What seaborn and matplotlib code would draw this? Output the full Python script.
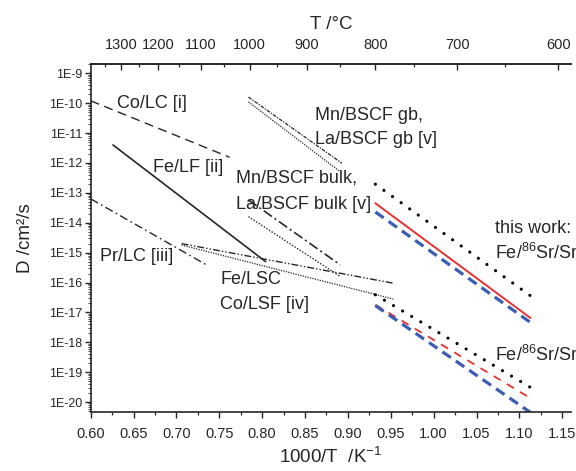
import numpy as np
import pandas as pd
import seaborn as sns
import matplotlib
matplotlib.use("Agg")
import matplotlib.pyplot as plt
from matplotlib.ticker import FixedLocator, FuncFormatter, MultipleLocator, NullFormatter

# literature lines: 1000/T endpoints and D endpoints (cm^2/s)
co_lc_x = [0.600, 0.762]
co_lc_d = [1.2e-10, 1.55e-12]
fe_lf_x = [0.626, 0.804]
fe_lf_d = [4.0e-12, 5.0e-16]
pr_lc_x = [0.600, 0.735]
pr_lc_d = [6.3e-14, 3.9e-16]
fe_lsc_x = [0.706, 0.953]
fe_lsc_d = [2.0e-15, 9.5e-17]
co_lsf_x = [0.706, 0.953]
co_lsf_d = [1.8e-15, 2.8e-17]
mn_gb_x = [0.784, 0.893]
mn_gb_d = [1.6e-10, 9.8e-13]
la_gb_x = [0.784, 0.891]
la_gb_d = [1.1e-10, 5.1e-13]
mn_bulk_x = [0.784, 0.891]
mn_bulk_d = [5.8e-14, 3.9e-16]
la_bulk_x = [0.784, 0.891]
la_bulk_d = [1.6e-14, 1.6e-16]

# this work
tw_x = [0.932, 1.113]
tw_fe_bulk = [1.95e-13, 3.6e-17]
tw_sr_bulk = [4.5e-14, 6.5e-18]
tw_srsr_bulk = [2.3e-14, 4.6e-18]
tw_fe_gb = [3.9e-17, 3.1e-20]
tw_sr_gb = [1.8e-17, 1.35e-20]
tw_srsr_gb = [1.7e-17, 4.5e-21]

top_major = [600, 700, 800, 900, 1000, 1100, 1200, 1300]
top_minor = [650, 750, 850, 950, 1050, 1150, 1250, 1350]
y_decades = list(range(-20, -8))

sns.set_theme(style="ticks")
plt.rcParams['font.family'] = ['Liberation Sans', 'DejaVu Sans']
plt.rcParams['mathtext.fontset'] = 'custom'
plt.rcParams['mathtext.rm'] = 'Liberation Sans'
plt.rcParams['mathtext.it'] = 'Liberation Sans:italic'
plt.rcParams['mathtext.bf'] = 'Liberation Sans:bold'

ink = '#262626'
red = '#e8302c'
blue = '#3d5cb4'

fig = plt.figure(figsize=(5.76, 4.71), dpi=100)
ax = fig.add_axes([0.1575, 0.1253, 0.8335, 0.7388])

lines = [
    (co_lc_x, co_lc_d, ink, 1.0, (0, (6.5, 4)), 'butt'),
    (fe_lf_x, fe_lf_d, ink, 1.2, '-', 'butt'),
    (pr_lc_x, pr_lc_d, ink, 1.0, (0, (6, 2.5, 1.2, 2.5)), 'butt'),
    (fe_lsc_x, fe_lsc_d, ink, 1.0, (0, (5, 1.5, 1, 1.5, 1, 1.5)), 'butt'),
    (co_lsf_x, co_lsf_d, ink, 0.9, (0, (1, 1)), 'butt'),
    (mn_gb_x, mn_gb_d, ink, 0.9, (0, (3, 1, 1, 1)), 'butt'),
    (la_gb_x, la_gb_d, ink, 0.9, (0, (1, 1)), 'butt'),
    (mn_bulk_x, mn_bulk_d, ink, 1.2, (0, (6, 2, 1.2, 2)), 'butt'),
    (la_bulk_x, la_bulk_d, ink, 1.0, (0, (1, 1.2)), 'butt'),
    (tw_x, tw_fe_bulk, 'black', 2.3, (0, (0.01, 3.3)), 'round'),
    (tw_x, tw_sr_bulk, red, 1.4, '-', 'butt'),
    (tw_x, tw_srsr_bulk, blue, 2.3, (0, (3.2, 1.9)), 'butt'),
    (tw_x, tw_fe_gb, 'black', 2.3, (0, (0.01, 3.3)), 'round'),
    (tw_x, tw_sr_gb, red, 1.3, (0, (4.5, 4)), 'butt'),
    (tw_x, tw_srsr_gb, blue, 2.3, (0, (3.2, 1.9)), 'butt'),
]
for xs, ds, col, lw, ls, cap in lines:
    df = pd.DataFrame({'x': xs, 'D': ds})
    sns.lineplot(data=df, x='x', y='D', ax=ax, color=col, lw=lw, linestyle=ls,
                 dash_capstyle=cap, legend=False)

ax.set_yscale('log')
ax.set_xlim(0.60, 1.16)
ax.set_ylim(10 ** -20.33, 10 ** -8.69)

ax.xaxis.set_major_locator(MultipleLocator(0.05))
ax.xaxis.set_minor_locator(MultipleLocator(0.025))
ax.xaxis.set_major_formatter(FuncFormatter(lambda v, p: f"{v:.2f}"))
ax.yaxis.set_major_locator(FixedLocator([10.0 ** n for n in y_decades]))
minor_y = [m * 10.0 ** n for n in range(-21, -8) for m in range(2, 10)]
minor_y = [v for v in minor_y if 10 ** -20.33 <= v <= 10 ** -8.69]
ax.yaxis.set_minor_locator(FixedLocator(minor_y))
ax.yaxis.set_minor_formatter(NullFormatter())
ax.yaxis.set_major_formatter(FuncFormatter(lambda v, p: f"1E{int(round(np.log10(v)))}"))

ax.tick_params(axis='x', which='major', direction='out', length=4, width=1.0, pad=7,
               labelsize=10.5, colors=ink, top=False)
ax.tick_params(axis='x', which='minor', direction='out', length=2.5, width=0.9, top=False)
ax.tick_params(axis='y', which='major', direction='out', length=4, width=1.0, pad=2,
               labelsize=9, colors=ink, right=False)
ax.tick_params(axis='y', which='minor', direction='out', length=2, width=0.6, right=False)
ax.spines['right'].set_visible(False)
for s in ['left', 'bottom', 'top']:
    ax.spines[s].set_linewidth(1.2)
    ax.spines[s].set_color(ink)

ax.set_xlabel('1000/T  /K$^{-1}$', fontsize=13.5, color=ink, labelpad=4)
ax.set_ylabel('D /cm²/s', fontsize=13.5, color=ink, labelpad=11)


def to_c(x):
    x = np.asarray(x, dtype=float)
    with np.errstate(divide='ignore'):
        return 1000.0 / x - 273.15


def to_inv(t):
    t = np.asarray(t, dtype=float)
    with np.errstate(divide='ignore'):
        return 1000.0 / (t + 273.15)


sec = ax.secondary_xaxis('top', functions=(to_c, to_inv))
sec.xaxis.set_major_locator(FixedLocator(top_major))
sec.xaxis.set_minor_locator(FixedLocator(top_minor))
sec.xaxis.set_major_formatter(FuncFormatter(lambda v, p: f"{v:.0f}"))
sec.tick_params(which='major', direction='in', length=4, width=1.0, pad=9,
                labelsize=10.5, colors=ink)
sec.tick_params(which='minor', direction='in', length=2.5, width=0.9)
sec.spines['top'].set_linewidth(1.2)
sec.spines['top'].set_color(ink)
sec.set_xlabel('T /°C', fontsize=13.5, color=ink, labelpad=6)

labels = [
    (0.631, -10.0, 'Co/LC [i]'),
    (0.673, -12.14, 'Fe/LF [ii]'),
    (0.862, -10.40, 'Mn/BSCF gb,'),
    (0.862, -11.20, 'La/BSCF gb [v]'),
    (0.769, -12.51, 'Mn/BSCF bulk,'),
    (0.769, -13.40, 'La/BSCF bulk [v]'),
    (0.611, -15.13, 'Pr/LC [iii]'),
    (0.751, -15.91, 'Fe/LSC'),
    (0.751, -16.75, 'Co/LSF [iv]'),
    (1.072, -14.18, 'this work:'),
    (1.072, -15.02, 'Fe/$^{86}$Sr/Sr'),
    (1.072, -18.42, 'Fe/$^{86}$Sr/Sr'),
]
for x, lg, txt in labels:
    ax.text(x, 10 ** lg, txt, fontsize=13, color=ink, ha='left', va='center', clip_on=False)

plt.savefig('out.png', dpi=100)
